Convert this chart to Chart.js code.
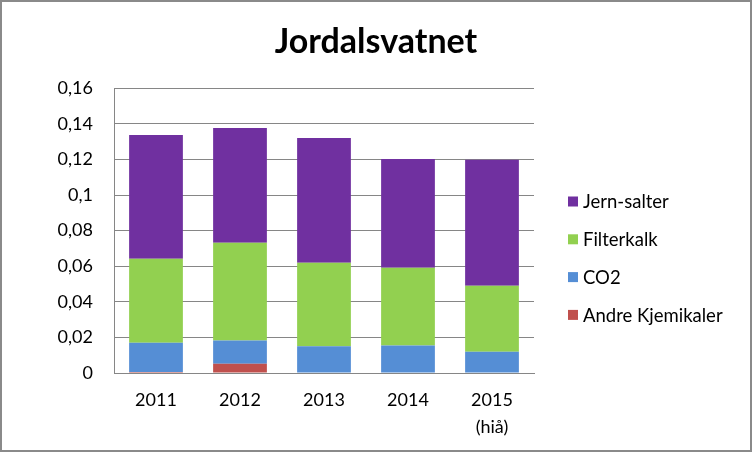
<!DOCTYPE html>
<html>
<head>
<meta charset="utf-8">
<script src="https://cdn.jsdelivr.net/npm/chart.js@4"></script>
<style>
html,body{margin:0;padding:0;background:#fff;}
#wrap{position:relative;width:752px;height:452px;}
#frame{position:absolute;left:0;top:0;width:752px;height:452px;box-sizing:border-box;border:2px solid #8a8a8a;pointer-events:none;}
canvas{display:block;}
</style>
</head>
<body>
<div id="wrap"><canvas id="c" width="752" height="452"></canvas><div id="frame"></div></div>
<script>
const categories = ['2011', '2012', '2013', '2014', ['2015', '(hiå)']];
const andreKjemikaler = [0.0006, 0.0052, 0, 0, 0];
const co2 = [0.0164, 0.0131, 0.0150, 0.0155, 0.0120];
const filterkalk = [0.0472, 0.0549, 0.0469, 0.0436, 0.0370];
const jernSalter = [0.0696, 0.0645, 0.0702, 0.0612, 0.0709];
const yTickLabels = ['0', '0,02', '0,04', '0,06', '0,08', '0,1', '0,12', '0,14', '0,16'];

const FONT = 'Lato, "Open Sans", sans-serif';
const barOpts = {barPercentage: 0.64, categoryPercentage: 1.0, borderWidth: 0};

// Legend drawn at the right, items listed top (last dataset) to bottom (first dataset)
const sideLegend = {
  id: 'sideLegend',
  afterDraw(chart) {
    const ctx = chart.ctx;
    const ds = chart.data.datasets.slice().reverse();
    const x0 = 568, y0 = 201.5, step = 37.8, box = 10;
    ctx.save();
    ctx.font = '18.5px ' + FONT;
    ctx.textBaseline = 'middle';
    ctx.textAlign = 'left';
    ds.forEach((d, i) => {
      const cy = y0 + i * step;
      ctx.fillStyle = d.backgroundColor;
      ctx.fillRect(x0, cy - box / 2, box, box);
      ctx.fillStyle = '#000';
      ctx.fillText(d.label, x0 + box + 5, cy + 1);
    });
    ctx.restore();
  }
};

new Chart(document.getElementById('c'), {
  type: 'bar',
  data: {
    labels: categories,
    datasets: [
      Object.assign({label: 'Andre Kjemikaler', data: andreKjemikaler, backgroundColor: '#C0504D'}, barOpts),
      Object.assign({label: 'CO2', data: co2, backgroundColor: '#558ED5'}, barOpts),
      Object.assign({label: 'Filterkalk', data: filterkalk, backgroundColor: '#92D050'}, barOpts),
      Object.assign({label: 'Jern-salter', data: jernSalter, backgroundColor: '#7030A0'}, barOpts)
    ]
  },
  plugins: [sideLegend],
  options: {
    responsive: false,
    animation: false,
    layout: {padding: {left: 0, right: 0, top: 0, bottom: 0}},
    plugins: {
      title: {
        display: true,
        text: 'Jordalsvatnet',
        color: '#000',
        font: {family: FONT, size: 34, weight: 'bold', lineHeight: 1.2},
        padding: {top: 22, bottom: 25.5}
      },
      legend: {display: false},
      tooltip: {enabled: false}
    },
    scales: {
      x: {
        stacked: true,
        grid: {display: false, drawTicks: false},
        border: {display: true, color: '#868686', width: 1},
        ticks: {color: '#000', font: {family: FONT, size: 18, lineHeight: 1.5}, padding: 14, maxRotation: 0},
        afterFit: s => { s.height = 79; }
      },
      y: {
        stacked: true,
        min: 0,
        max: 0.16,
        grid: {color: '#868686', drawTicks: false, lineWidth: 1},
        border: {display: true, color: '#868686', width: 1},
        ticks: {
          stepSize: 0.02,
          color: '#000',
          font: {family: FONT, size: 18},
          padding: 21,
          callback: (v, i) => yTickLabels[i]
        },
        afterFit: s => { s.width = 114; }
      },
      gap: {
        position: 'right',
        display: true,
        grid: {display: false, drawTicks: false},
        border: {display: false},
        ticks: {display: false},
        afterFit: s => { s.width = 218; }
      }
    }
  }
});
</script>
</body>
</html>
